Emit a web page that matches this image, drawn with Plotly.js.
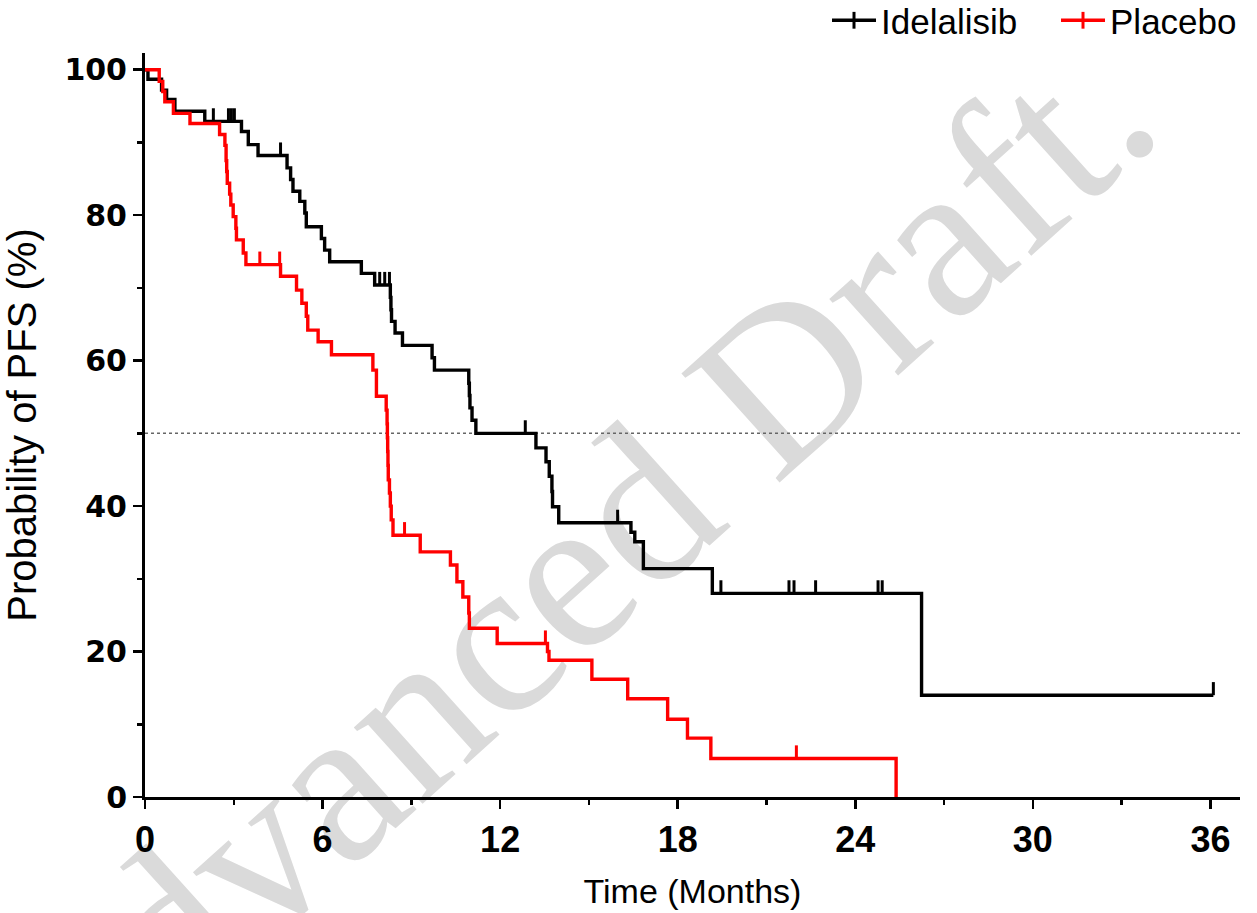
<!DOCTYPE html>
<html>
<head>
<meta charset="utf-8">
<script src="https://cdn.plot.ly/plotly-3.0.1.min.js"></script>
<style>
  html, body { margin: 0; padding: 0; background: #ffffff; }
  #wrap { position: relative; width: 1257px; height: 913px; overflow: hidden; }
  #watermark {
    position: absolute; left: 562px; top: 576px;
    transform: translate(-50%, -50%) rotate(-42deg);
    font-family: "Liberation Serif", "Times New Roman", serif;
    font-size: 224px; color: #dadada; white-space: nowrap; z-index: 0;
  }
  #chart { position: absolute; left: 0; top: 0; width: 1257px; height: 913px; z-index: 1; }
</style>
</head>
<body>
<div id="wrap">
  <div id="watermark">Advanced Draft.</div>
  <div id="chart"></div>
</div>
<script>
// ---- Data (months, % progression-free) ----
const seriesNames = ["Idelalisib", "Placebo"];

const idelaTime = [0, 0.1, 0.56, 0.73, 1.01, 2.02, 3.26, 3.49, 3.82, 4.8, 4.92, 5.0, 5.23, 5.4, 5.45,
  5.96, 6.07, 6.24, 7.31, 7.76, 8.29, 8.31, 8.33, 8.45, 8.7, 9.7, 9.78, 10.94, 10.96, 10.98, 11.05,
  11.18, 13.21, 13.55, 13.66, 13.75, 13.77, 13.98, 16.42, 16.55, 16.84, 19.17, 26.24, 36.1];
const idelaSurv = [100, 98.7, 97.2, 95.9, 94.3, 92.9, 91.5, 89.7, 88.2, 86.5, 84.9, 83.3, 81.9, 80.3, 78.4,
  76.8, 75.2, 73.6, 72.0, 70.4, 68.7, 67.0, 65.4, 63.8, 62.1, 60.4, 58.7, 56.9, 55.2, 53.5, 51.8,
  50.0, 48.0, 46.1, 44.1, 42.0, 39.9, 37.7, 36.4, 35.1, 31.4, 28.0, 14.0, 14.0];
const idelaCensorTime = [2.31, 2.82, 2.92, 3.02, 4.58, 7.93, 8.1, 8.26, 12.85, 15.97, 19.46, 21.76, 21.93, 22.66, 24.77, 24.91, 36.1];
const idelaCensorSurv = [92.9, 92.9, 92.9, 92.9, 88.2, 70.4, 70.4, 70.4, 50.0, 37.7, 28.0, 28.0, 28.0, 28.0, 28.0, 28.0, 14.0];

const placeboTime = [0, 0.48, 0.6, 0.67, 0.96, 1.52, 2.52, 2.7, 2.74, 2.76, 2.78, 2.86, 2.9, 2.98, 3.07, 3.09,
  3.32, 3.41, 4.58, 5.12, 5.3, 5.45, 5.5, 5.85, 6.3, 7.7, 7.82, 8.15, 8.18, 8.19, 8.2, 8.21, 8.22, 8.26,
  8.29, 8.32, 8.38, 9.3, 10.32, 10.54, 10.74, 10.94, 10.96, 11.9, 13.6, 13.65, 15.1, 16.31, 17.66, 18.33,
  19.12, 25.38];
const placeboSurv = [100, 98.4, 97.0, 95.6, 94.0, 92.6, 91.1, 89.6, 87.5, 86.0, 84.4, 82.9, 81.4, 79.8, 78.2, 76.6,
  74.8, 73.2, 71.6, 69.7, 67.9, 66.1, 64.2, 62.6, 60.8, 58.7, 55.1, 53.2, 51.3, 49.4, 47.5, 45.6, 43.6, 41.8,
  40.0, 38.1, 36.0, 33.7, 31.9, 29.6, 27.5, 25.3, 23.2, 21.1, 20.0, 18.8, 16.2, 13.5, 10.7, 8.1,
  5.3, 0];
const placeboCensorTime = [3.88, 4.55, 8.77, 13.53, 22.01];
const placeboCensorSurv = [73.2, 73.2, 36.0, 21.1, 5.3];

const medianLevel = 50;
const xTickStep = 6;
const yTickStep = 20;

// ---- Styles ----
const COLORS = ["#000000", "#ff0000"];
const LINE_W = 3.4;
const CENSOR_TICK = 1.8;   // tick height in % units (drawn upward from the curve)
const FONT = "Liberation Sans, Arial, sans-serif";

function kmLine(t, s, color) {
  return { x: t, y: s, type: "scatter", mode: "lines", line: { shape: "hv", color: color, width: LINE_W },
           showlegend: false, hoverinfo: "x+y" };
}
function censors(t, s, color) {
  return { x: t, y: s, type: "scatter", mode: "markers",
           marker: { size: 1, color: "rgba(0,0,0,0)" },
           error_y: { type: "data", symmetric: false, array: t.map(() => CENSOR_TICK),
                      arrayminus: t.map(() => 0), width: 0, thickness: 3, color: color },
           showlegend: false, hoverinfo: "x+y" };
}
function legendEntry(name, color) {
  return { x: [null], y: [null], type: "scatter", mode: "lines+markers", name: name,
           line: { color: color, width: LINE_W },
           marker: { symbol: "line-ns", size: 12, line: { color: color, width: 3 } },
           showlegend: true };
}

const data = [
  kmLine(idelaTime, idelaSurv, COLORS[0]),
  censors(idelaCensorTime, idelaCensorSurv, COLORS[0]),
  kmLine(placeboTime, placeboSurv, COLORS[1]),
  censors(placeboCensorTime, placeboCensorSurv, COLORS[1]),
  legendEntry(seriesNames[0], COLORS[0]),
  legendEntry(seriesNames[1], COLORS[1])
];

const layout = {
  width: 1257, height: 913,
  margin: { l: 145, r: 17, t: 53, b: 116, autoexpand: false },
  paper_bgcolor: "rgba(0,0,0,0)", plot_bgcolor: "rgba(0,0,0,0)",
  font: { family: FONT, color: "#000" },
  showlegend: true,
  legend: { orientation: "h", xref: "paper", yref: "paper",
            x: 1.0411, xanchor: "right", y: 1.0833, yanchor: "top",
            font: { family: FONT, size: 35, color: "#000" }, bgcolor: "rgba(0,0,0,0)",
            itemwidth: 44, entrywidth: 170, entrywidthmode: "pixels", traceorder: "normal" },
  xaxis: {
    range: [0, 37], tick0: 0, dtick: xTickStep, ticks: "outside", ticklen: 9, tickwidth: 2.5,
    tickcolor: "#000", showline: true, linewidth: 3, linecolor: "#000", showgrid: false, zeroline: false,
    tickfont: { family: FONT, size: 36, weight: "bold", color: "#000" },
    minor: { dtick: xTickStep / 2, ticks: "outside", ticklen: 5, tickwidth: 2.5, tickcolor: "#000", showgrid: false },
    title: { text: "Time (Months)", font: { family: FONT, size: 34, color: "#000" }, standoff: 20 },
    fixedrange: true
  },
  yaxis: {
    range: [0, 102.3], tick0: 0, dtick: yTickStep, ticks: "outside", ticklen: 9, tickwidth: 2.5,
    tickcolor: "#000", showline: true, linewidth: 3, linecolor: "#000", showgrid: false, zeroline: false,
    tickfont: { family: "DejaVu Sans, sans-serif", size: 30, weight: "bold", color: "#000" },
    minor: { dtick: yTickStep / 2, ticks: "outside", ticklen: 5, tickwidth: 2.5, tickcolor: "#000", showgrid: false },
    title: { text: "Probability of PFS (%)", font: { family: FONT, size: 40, color: "#000" }, standoff: 18 },
    fixedrange: true
  },
  shapes: [{
    type: "line", xref: "paper", x0: 0, x1: 1, yref: "y", y0: medianLevel, y1: medianLevel,
    line: { color: "#666", width: 1.5, dash: "dot" }, layer: "below"
  }]
};

Plotly.newPlot("chart", data, layout, { displayModeBar: false, staticPlot: true });
</script>
</body>
</html>
